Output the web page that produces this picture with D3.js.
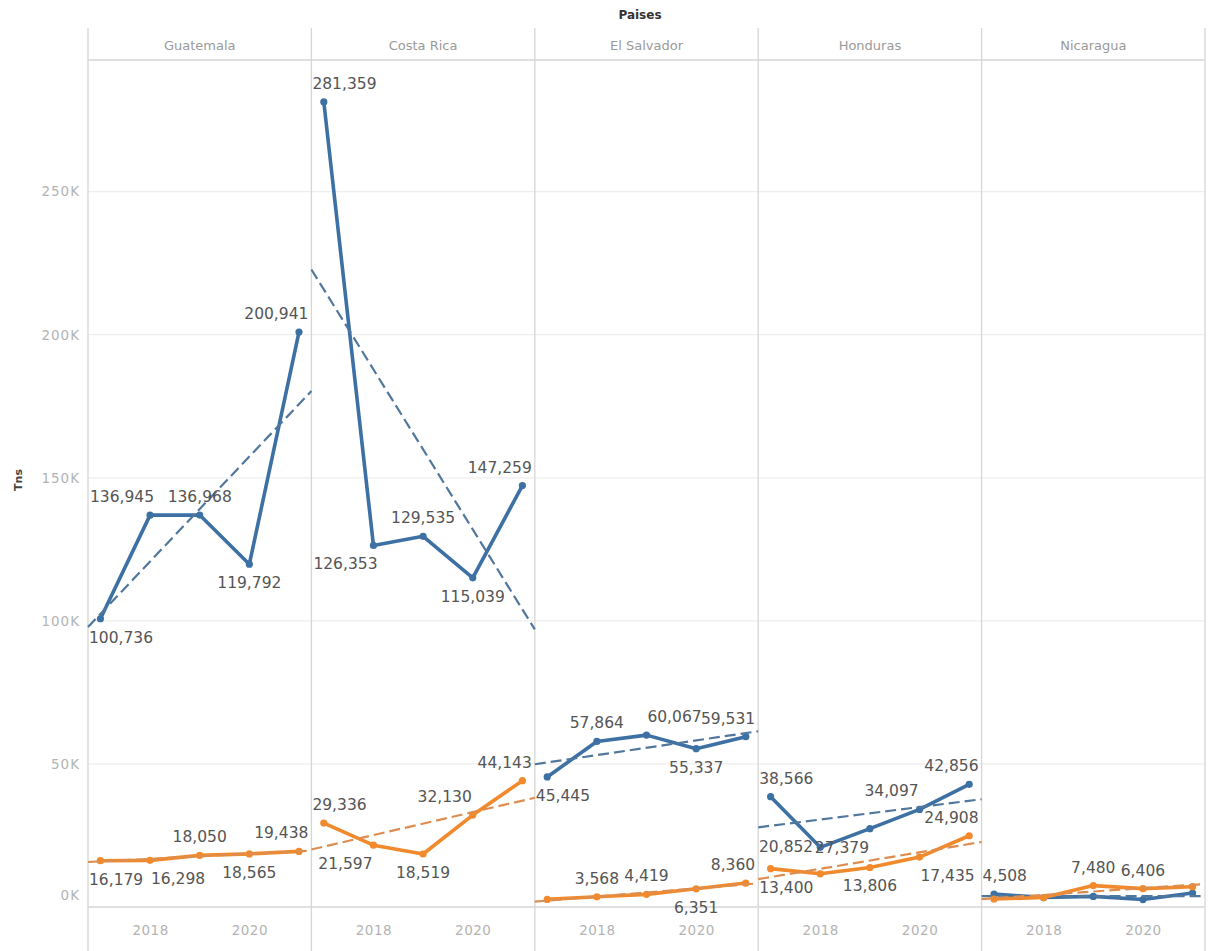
<!DOCTYPE html>
<html><head><meta charset="utf-8">
<script src="https://cdn.jsdelivr.net/npm/d3@7"></script>
<style>body{margin:0;background:#fff}svg{display:block}</style>
</head><body><svg id="chart" width="1209" height="951"></svg>
<script>
// ---------- data ----------
const countries = ["Guatemala", "Costa Rica", "El Salvador", "Honduras", "Nicaragua"];
const years = [2017, 2018, 2019, 2020, 2021];
const xTickYears = [2018, 2020];
const yTickValues = [0, 50000, 100000, 150000, 200000, 250000];

const guatemalaBlue    = [100736, 136945, 136968, 119792, 200941];
const guatemalaOrange  = [16179, 16298, 18050, 18565, 19438];
const costaRicaBlue    = [281359, 126353, 129535, 115039, 147259];
const costaRicaOrange  = [29336, 21597, 18519, 32130, 44143];
const elSalvadorBlue   = [45445, 57864, 60067, 55337, 59531];
const elSalvadorOrange = [2650, 3568, 4419, 6351, 8360];
const hondurasBlue     = [38566, 20852, 27379, 34097, 42856];
const hondurasOrange   = [13400, 11600, 13806, 17435, 24908];
const nicaraguaBlue    = [4508, 3300, 3700, 2600, 4900];
const nicaraguaOrange  = [2800, 3300, 7480, 6406, 7100];

// label placement (a = above, b = below, l = left, < / > shifted, "" = hidden)
const blueLabelPlacement = [
  ["b", "a<", "a", "b", "a"],
  ["a", "b<", "a", "b", "a"],
  ["b", "a", "a>", "b", "a"],
  ["a", "l", "b<", "a<", "a"],
  ["a", "", "", "", ""]
];
const orangeLabelPlacement = [
  ["b", "b>", "a", "b", "a"],
  ["a", "b<", "b", "a<", "a"],
  ["", "a", "a", "b", "a"],
  ["b", "", "b", "b>", "a"],
  ["", "", "a", "a", ""]
];

const blueValues = [guatemalaBlue, costaRicaBlue, elSalvadorBlue, hondurasBlue, nicaraguaBlue];
const orangeValues = [guatemalaOrange, costaRicaOrange, elSalvadorOrange, hondurasOrange, nicaraguaOrange];

// ---------- layout ----------
const W = 1209, H = 951;
const plotLeft = 88, plotRight = 1205, plotTop = 60, plotBottom = 907, headerTop = 28;
const blue = "#3d70a3", orange = "#f08a2d";
const blueTrend = "#52779c", orangeTrend = "#dd8d4f";
const fmt = d3.format(",");

const svg = d3.select("#chart");
const panel = d3.scaleBand().domain(countries).range([plotLeft, plotRight]).paddingInner(0).paddingOuter(0);
const y = d3.scaleLinear().domain([0, 296000]).range([plotBottom, plotTop]);
const bw = panel.bandwidth();

// gridlines
svg.append("g").selectAll("line").data(yTickValues.filter(d => d > 0)).join("line")
  .attr("x1", plotLeft).attr("x2", plotRight)
  .attr("y1", d => y(d)).attr("y2", d => y(d))
  .attr("stroke", "#eeeeee").attr("stroke-width", 1.2);

// frame
const frame = svg.append("g").attr("stroke", "#d8d6d4").attr("stroke-width", 1.3);
frame.append("line").attr("x1", plotLeft).attr("x2", plotRight).attr("y1", plotTop).attr("y2", plotTop);
frame.append("line").attr("x1", plotLeft).attr("x2", plotRight).attr("y1", plotBottom).attr("y2", plotBottom);
const borders = countries.map(c => panel(c)).concat([plotRight]);
frame.selectAll("line.v").data(borders).join("line").attr("class", "v")
  .attr("x1", d => d).attr("x2", d => d).attr("y1", headerTop).attr("y2", H);

// title + headers
svg.append("text").attr("x", 640).attr("y", 15).attr("text-anchor", "middle")
  .attr("dominant-baseline", "central")
  .style("font", "bold 12px 'DejaVu Sans'").attr("fill", "#333").text("Paises");
svg.append("g").selectAll("text").data(countries).join("text")
  .attr("x", d => panel(d) + bw / 2).attr("y", 45)
  .attr("text-anchor", "middle").attr("dominant-baseline", "central")
  .style("font", "13px 'DejaVu Sans'").attr("fill", "#9a9a9a").text(d => d);

// y axis
const yAxis = d3.axisLeft(y).tickValues(yTickValues).tickSize(0).tickPadding(0)
  .tickFormat(d => (d / 1000) + "K");
const ya = svg.append("g").attr("transform", `translate(80,0)`).call(yAxis);
ya.select(".domain").remove();
ya.selectAll("text").style("font", "13.5px 'DejaVu Sans'").style("letter-spacing", "1px")
  .attr("fill", "#b3b3b3")
  .attr("y", d => d === 0 ? -12 : 0);
svg.append("text").attr("transform", "translate(18,480) rotate(-90)")
  .attr("text-anchor", "middle").attr("dominant-baseline", "central")
  .style("font", "bold 11px 'DejaVu Sans'").attr("fill", "#444").text("Tns");

// panels
countries.forEach((c, ci) => {
  const x0 = panel(c), x1 = x0 + bw;
  const x = d3.scaleLinear().domain([2016.75, 2021.25]).range([x0, x1]);
  const g = svg.append("g");

  // x axis
  const xa = g.append("g").attr("transform", `translate(0,${plotBottom + 23})`)
    .call(d3.axisBottom(x).tickValues(xTickYears).tickFormat(d3.format("d")).tickSize(0).tickPadding(0));
  xa.select(".domain").remove();
  xa.selectAll("text").style("font", "13.5px 'DejaVu Sans'").style("letter-spacing", "0.5px")
    .attr("fill", "#b3b3b3").attr("dy", "0.35em").attr("y", 0);

  const series = [
    {vals: blueValues[ci], col: blue, trendCol: blueTrend, place: blueLabelPlacement[ci]},
    {vals: orangeValues[ci], col: orange, trendCol: orangeTrend, place: orangeLabelPlacement[ci]}
  ];

  series.forEach(s => {
    const pts = years.map((yr, i) => ({yr, v: s.vals[i], p: s.place[i]}));
    g.append("path").datum(pts)
      .attr("d", d3.line().x(d => x(d.yr)).y(d => y(d.v)))
      .attr("fill", "none").attr("stroke", s.col).attr("stroke-width", 3.6)
      .attr("stroke-linejoin", "round").attr("stroke-linecap", "round");
    g.selectAll(null).data(pts).join("circle")
      .attr("cx", d => x(d.yr)).attr("cy", d => y(d.v)).attr("r", 3.6).attr("fill", s.col);

    // linear trend
    const mx = d3.mean(pts, d => d.yr), my = d3.mean(pts, d => d.v);
    const slope = d3.sum(pts, d => (d.yr - mx) * (d.v - my)) / d3.sum(pts, d => (d.yr - mx) ** 2);
    const f = t => my + slope * (t - mx);
    g.append("line")
      .attr("x1", x(2016.75)).attr("y1", y(f(2016.75)))
      .attr("x2", x(2021.25)).attr("y2", y(f(2021.25)))
      .attr("stroke", s.trendCol).attr("stroke-width", 2.2).attr("stroke-dasharray", "11,5");
  });

  // labels
  series.forEach(s => {
    years.forEach((yr, i) => {
      const p = s.place[i];
      if (!p) return;
      const px = x(yr), py = y(s.vals[i]);
      const t = g.append("text").text(fmt(s.vals[i]))
        .style("font", "15.5px 'DejaVu Sans'").attr("fill", "#555")
        .attr("dominant-baseline", "central");
      const w = t.node().getComputedTextLength();
      if (p === "l") {
        t.attr("x", px - 7 - w).attr("y", py);
        return;
      }
      let cx = px;
      if (p.includes("<")) cx -= 28;
      if (p.includes(">")) cx += 28;
      let lx = cx - w / 2;
      lx = Math.max(x0 + 1, Math.min(x1 - 3 - w, lx));
      const ly = p[0] === "a" ? py - 18 : py + 19;
      t.attr("x", lx).attr("y", ly);
    });
  });
});
</script>
</body></html>
